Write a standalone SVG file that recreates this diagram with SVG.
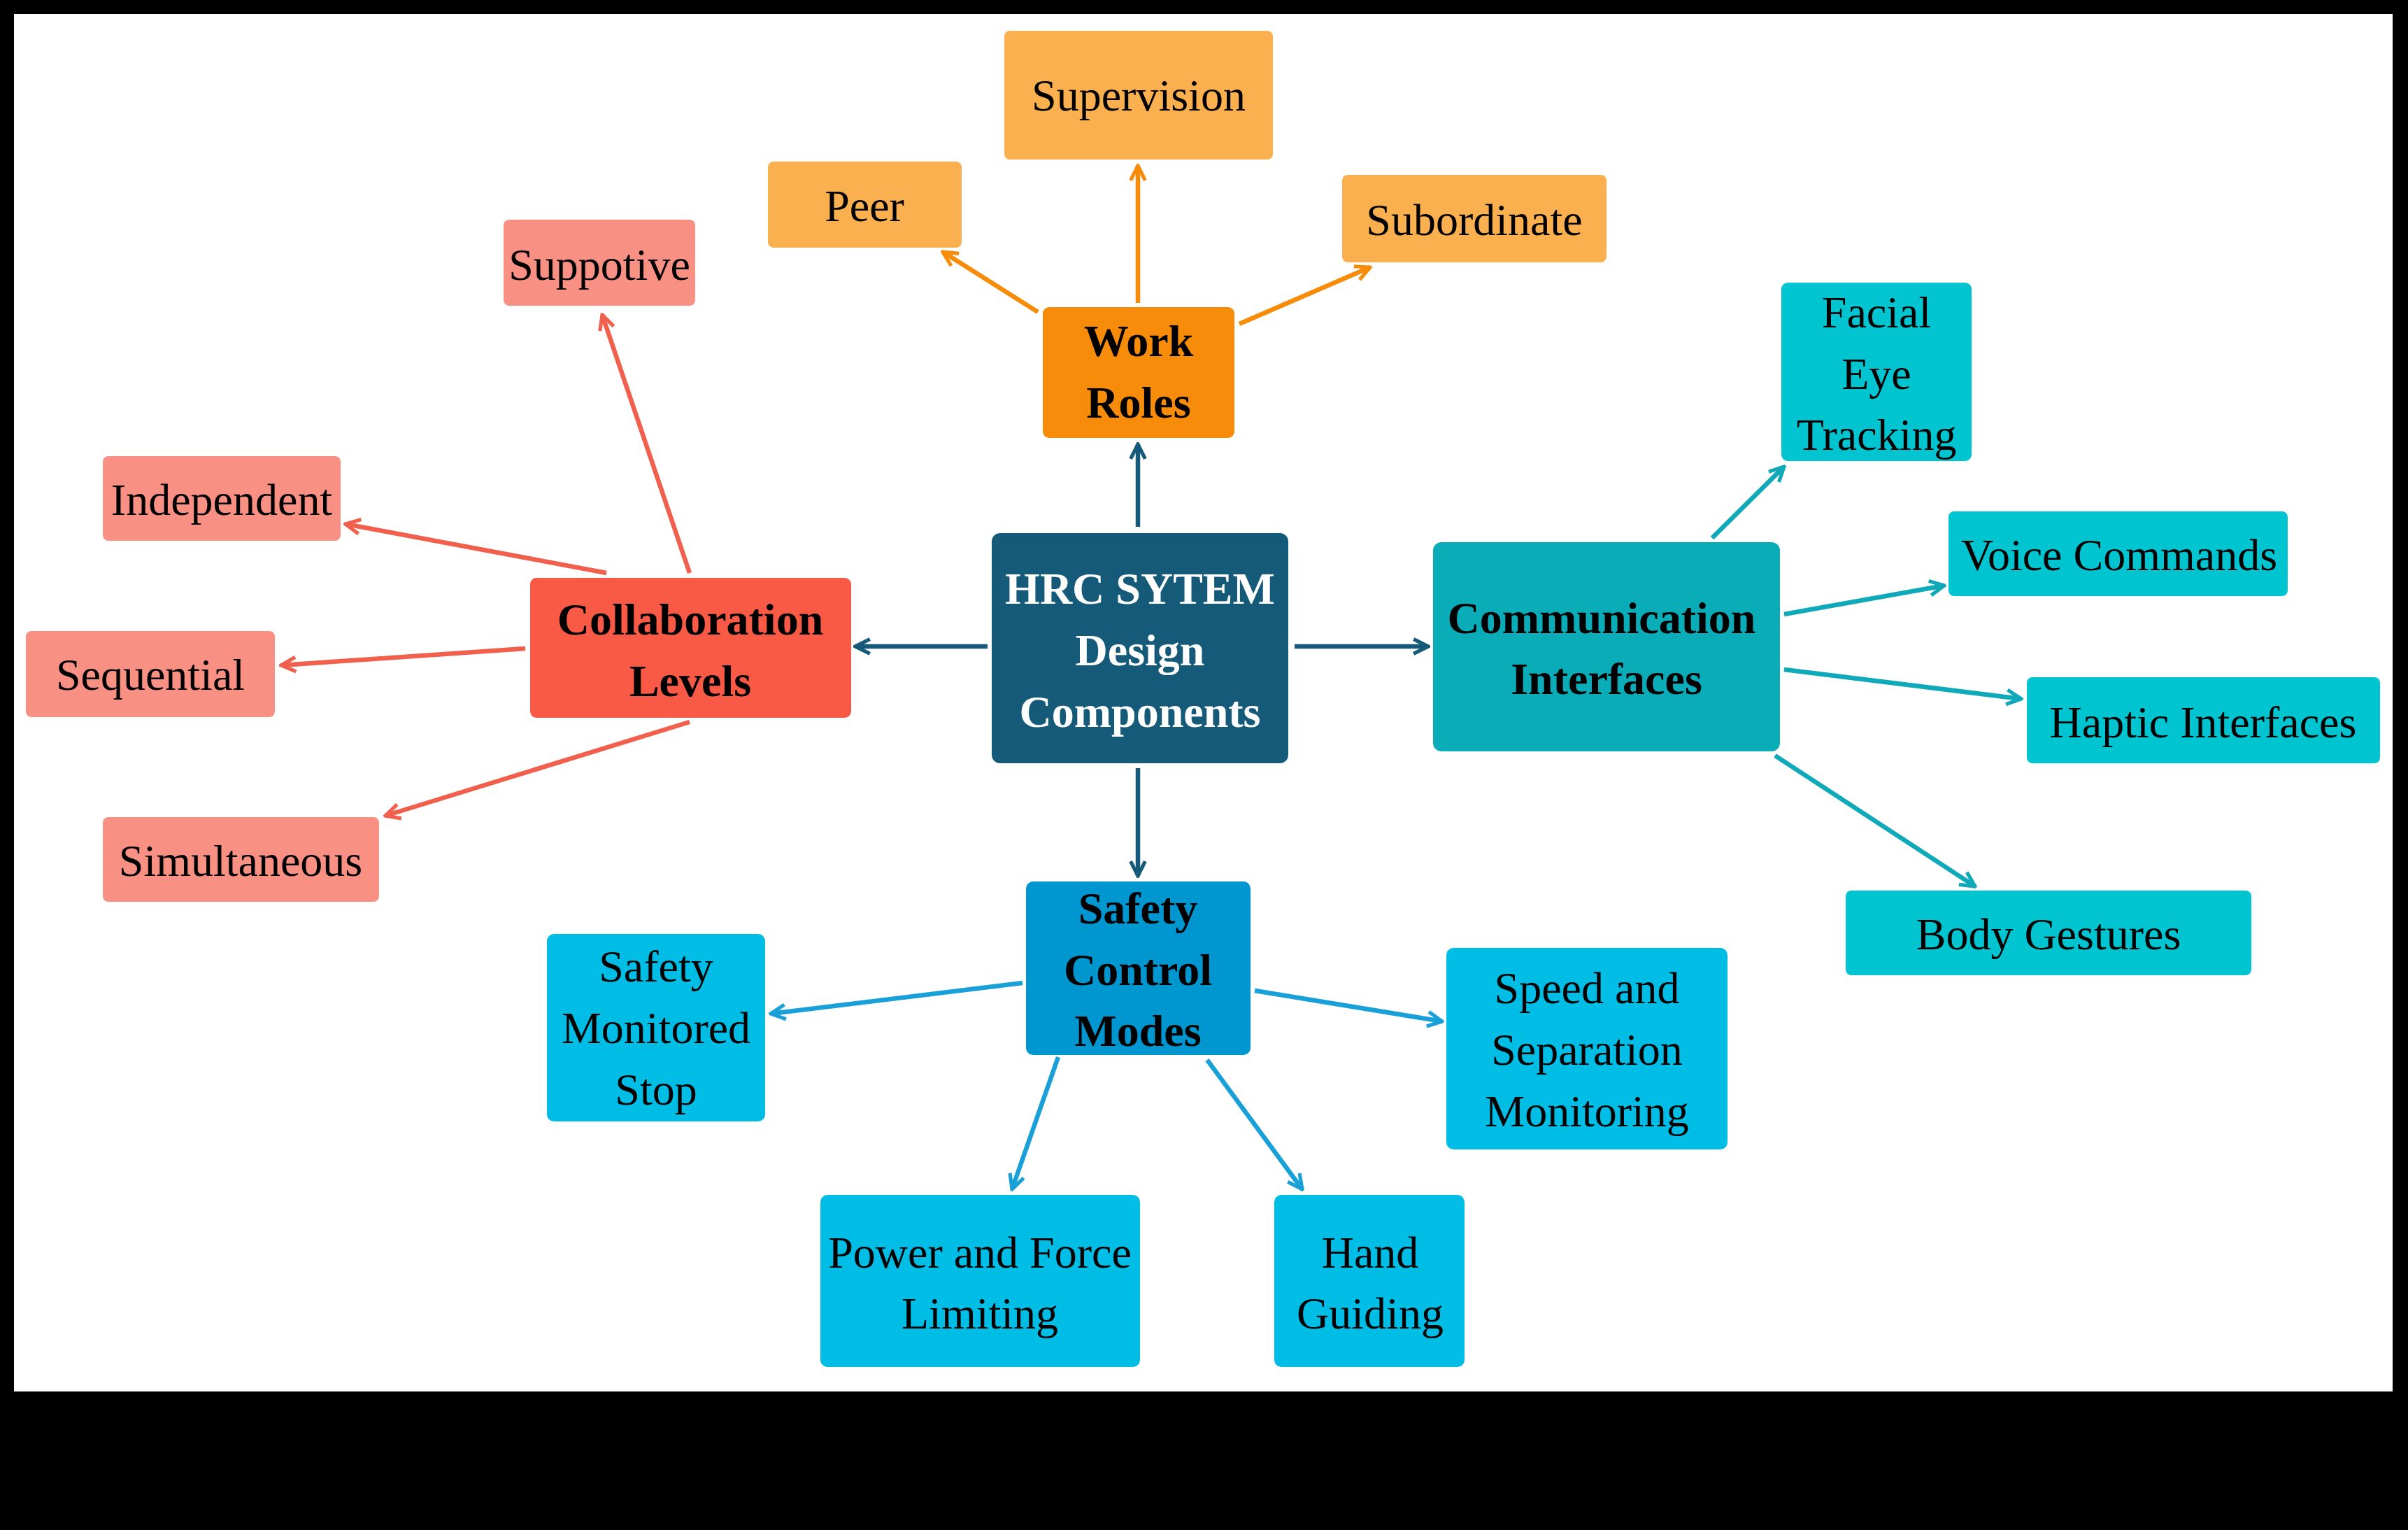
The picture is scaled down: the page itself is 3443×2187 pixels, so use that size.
<svg xmlns="http://www.w3.org/2000/svg" width="3443" height="2187" viewBox="0 0 3443 2187">
<style>
text{font-family:"Liberation Serif","Times New Roman",serif;font-size:64px;text-anchor:middle;dominant-baseline:central;fill:#000}
.b{font-weight:bold}
.w{fill:#fff}
.c{stroke-width:6.5;fill:none}
</style>
<defs>
<marker id="mO" viewBox="0 0 10 10" refX="9" refY="5" markerWidth="4" markerHeight="4" orient="auto" markerUnits="strokeWidth"><path d="M1,1 L9,5 L1,9" fill="none" stroke="#f78b0a" stroke-width="2"/></marker>
<marker id="mR" viewBox="0 0 10 10" refX="9" refY="5" markerWidth="4" markerHeight="4" orient="auto" markerUnits="strokeWidth"><path d="M1,1 L9,5 L1,9" fill="none" stroke="#f0604d" stroke-width="2"/></marker>
<marker id="mT" viewBox="0 0 10 10" refX="9" refY="5" markerWidth="4" markerHeight="4" orient="auto" markerUnits="strokeWidth"><path d="M1,1 L9,5 L1,9" fill="none" stroke="#10a9b9" stroke-width="2"/></marker>
<marker id="mB" viewBox="0 0 10 10" refX="9" refY="5" markerWidth="4" markerHeight="4" orient="auto" markerUnits="strokeWidth"><path d="M1,1 L9,5 L1,9" fill="none" stroke="#1aa0d8" stroke-width="2"/></marker>
<marker id="mD" viewBox="0 0 10 10" refX="9" refY="5" markerWidth="4" markerHeight="4" orient="auto" markerUnits="strokeWidth"><path d="M1,1 L9,5 L1,9" fill="none" stroke="#155a78" stroke-width="2"/></marker>
</defs>
<rect width="3443" height="2187" fill="#000"/>
<rect x="20" y="20" width="3401" height="1969" fill="#fff"/>
<g id="connectors">
<g stroke="#155a78" class="c" marker-end="url(#mD)">
<line x1="1627" y1="753" x2="1627" y2="635"/><line x1="1412" y1="924" x2="1223" y2="924"/><line x1="1851" y1="924" x2="2042" y2="924"/><line x1="1627" y1="1098" x2="1627" y2="1252"/></g>
<g stroke="#f78b0a" class="c" marker-end="url(#mO)">
<line x1="1627" y1="433" x2="1627" y2="237"/><line x1="1484" y1="446" x2="1348" y2="360"/><line x1="1772" y1="463" x2="1959" y2="382"/></g>
<g stroke="#f0604d" class="c" marker-end="url(#mR)">
<line x1="986" y1="819" x2="861" y2="450"/><line x1="867" y1="819" x2="494" y2="749"/><line x1="751" y1="927" x2="402" y2="951"/><line x1="986" y1="1032" x2="551" y2="1166"/></g>
<g stroke="#10a9b9" class="c" marker-end="url(#mT)">
<line x1="2448" y1="769" x2="2551" y2="667"/><line x1="2551" y1="878" x2="2780" y2="837"/><line x1="2551" y1="957" x2="2890" y2="999"/><line x1="2538" y1="1080" x2="2824" y2="1267"/></g>
<g stroke="#1aa0d8" class="c" marker-end="url(#mB)">
<line x1="1462" y1="1405" x2="1102" y2="1449"/><line x1="1794" y1="1416" x2="2062" y2="1460"/><line x1="1513" y1="1511" x2="1447" y2="1700"/><line x1="1726" y1="1515" x2="1862" y2="1700"/></g>
</g>
<g id="hrc"><rect x="1418" y="762" width="424" height="329" rx="12" fill="#155a78"/><text class="b w" x="1630" y="841">HRC SYTEM</text><text class="b w" x="1630" y="929">Design</text><text class="b w" x="1630" y="1017">Components</text></g>
<g id="work"><rect x="1491" y="439" width="274" height="187" rx="9" fill="#f78b0a"/><text class="b" x="1628" y="487">Work</text><text class="b" x="1628" y="575">Roles</text></g>
<g id="peer"><rect x="1098" y="231" width="277" height="123" rx="8" fill="#fbb04f"/><text x="1236" y="294">Peer</text></g>
<g id="supervision"><rect x="1436" y="44" width="384" height="184" rx="8" fill="#fbb04f"/><text x="1628" y="136">Supervision</text></g>
<g id="subordinate"><rect x="1919" y="250" width="378" height="125" rx="8" fill="#fbb04f"/><text x="2108" y="314">Subordinate</text></g>
<g id="collab"><rect x="758" y="826" width="459" height="200" rx="9" fill="#f95a45"/><text class="b" x="987" y="885">Collaboration</text><text class="b" x="987" y="973">Levels</text></g>
<g id="suppotive"><rect x="720" y="314" width="274" height="123" rx="8" fill="#f99084"/><text x="857" y="378">Suppotive</text></g>
<g id="independent"><rect x="147" y="652" width="340" height="121" rx="8" fill="#f99084"/><text x="317" y="714">Independent</text></g>
<g id="sequential"><rect x="37" y="902" width="356" height="123" rx="8" fill="#f99084"/><text x="215" y="964">Sequential</text></g>
<g id="simultaneous"><rect x="147" y="1168" width="395" height="121" rx="8" fill="#f99084"/><text x="344" y="1230">Simultaneous</text></g>
<g id="comm"><rect x="2049" y="775" width="496" height="299" rx="12" fill="#0aacb8"/><text class="b" x="2290" y="883">Communication</text><text class="b" x="2297" y="970">Interfaces</text></g>
<g id="facial"><rect x="2547" y="404" width="272" height="255" rx="9" fill="#00c5d0"/><text x="2683" y="446">Facial</text><text x="2683" y="534">Eye</text><text x="2683" y="621">Tracking</text></g>
<g id="voice"><rect x="2786" y="731" width="485" height="121" rx="8" fill="#00c5d0"/><text x="3030" y="793">Voice Commands</text></g>
<g id="haptic"><rect x="2898" y="968" width="505" height="123" rx="8" fill="#00c5d0"/><text x="3150" y="1032">Haptic Interfaces</text></g>
<g id="body"><rect x="2639" y="1273" width="580" height="121" rx="8" fill="#00c5d0"/><text x="2929" y="1335">Body Gestures</text></g>
<g id="safety"><rect x="1467" y="1260" width="321" height="248" rx="10" fill="#0096d0"/><text class="b" x="1627" y="1298">Safety</text><text class="b" x="1627" y="1386">Control</text><text class="b" x="1627" y="1473">Modes</text></g>
<g id="sms"><rect x="782" y="1335" width="312" height="268" rx="10" fill="#00bde6"/><text x="938" y="1381">Safety</text><text x="938" y="1469">Monitored</text><text x="938" y="1557">Stop</text></g>
<g id="ssm"><rect x="2068" y="1355" width="402" height="288" rx="10" fill="#00bde6"/><text x="2269" y="1412">Speed and</text><text x="2269" y="1500">Separation</text><text x="2269" y="1588">Monitoring</text></g>
<g id="pfl"><rect x="1173" y="1708" width="457" height="246" rx="10" fill="#00bde6"/><text x="1401" y="1790">Power and Force</text><text x="1401" y="1877">Limiting</text></g>
<g id="hand"><rect x="1822" y="1708" width="272" height="246" rx="10" fill="#00bde6"/><text x="1959" y="1790">Hand</text><text x="1959" y="1877">Guiding</text></g>
</svg>
